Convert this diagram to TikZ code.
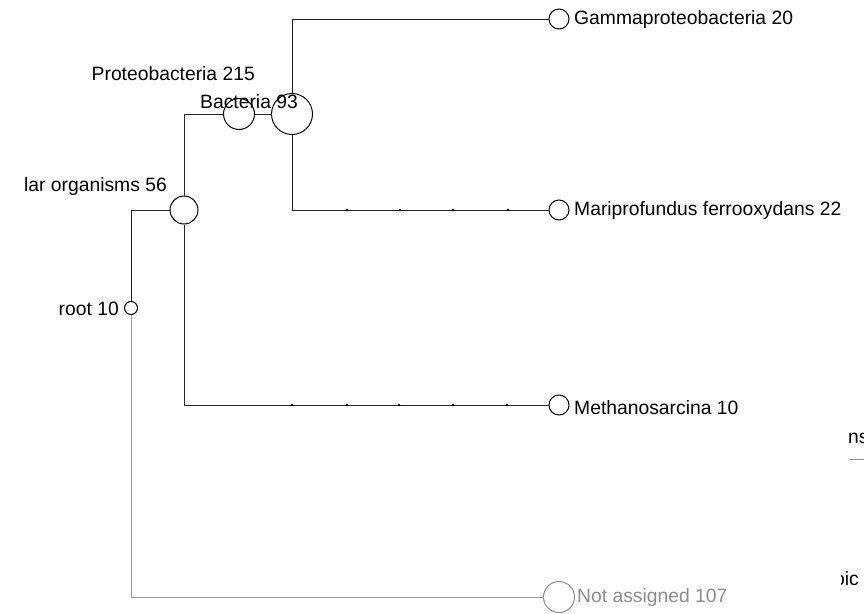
\documentclass[tikz,border=0pt]{standalone}
\usepackage{fontspec}
\setmainfont{Liberation Sans}
\begin{document}
\begin{tikzpicture}[x=1pt,y=-1pt,
  treenode/.style={draw=black, line width=1pt, circle, inner sep=0pt, minimum size=#1},
  lbl/.style={font=\fontsize{19.3}{22}\selectfont, inner sep=0pt, text=black},
  edge/.style={draw=black!85, line width=1pt},
  tick/.style={fill=black, radius=1.3pt}]
  \useasboundingbox (0,0) rectangle (864,613);

  % taxon circles
  \node[treenode=13pt] (root) at (131,308) {};
  \node[treenode=28pt] (cell) at (184,210) {};
  \node[treenode=31pt] (bact) at (239,114) {};
  \node[treenode=41pt] (prot) at (292,114) {};
  \node[treenode=20pt] (gamma) at (559,19) {};
  \node[treenode=20pt] (mari) at (559,210) {};
  \node[treenode=20pt] (meth) at (559,405) {};
  \node[treenode=31pt, draw=black!45] (nass) at (559,597) {};

  % labels
  \node[lbl, anchor=east] (rootl) at (119,309) {root 10};
  \node[lbl, anchor=east] (celll) at (167,187) {lar organisms 56};
  \node[lbl, anchor=east] (protl) at (255,74) {Proteobacteria 215};
  \node[lbl, anchor=west] (bactl) at (200,102) {Bacteria 93};
  \node[lbl, anchor=west] (gammal) at (574,20) {Gammaproteobacteria 20};
  \node[lbl, anchor=west] (maril) at (574,211) {Mariprofundus ferrooxydans 22};
  \node[lbl, anchor=west] (methl) at (574,408) {Methanosarcina 10};
  \node[lbl, anchor=west, text=black!45] (nassl) at (577,598) {Not assigned 107};

  % branches
  \draw[edge] (root.north) |- (cell.west);
  \draw[draw=black!40, line width=1pt] (root.south) |- (nass.west);
  \draw[edge] (cell.north) |- (bact.west);
  \draw[edge] (cell.south) |- (meth.west);
  \draw[edge] (bact.east) -- (prot.west);
  \draw[edge] (prot.north) |- (gamma.west);
  \draw[edge] (prot.south) |- (mari.west);

  % collapsed-rank ticks on the long branches
  \foreach \x in {292,347,399,453,507} \fill[tick] (\x,405) circle;
  \foreach \x in {347,400,453,508} \fill[tick] (\x,210) circle;

  % partly visible items at the right border
  \node[lbl, anchor=west] (edgea) at (848,438) {ns};
  \coordinate (edgeb) at (850,459);
  \coordinate (edgec) at (864,459);
  \draw[draw=black!45, line width=1pt] (edgeb) -- (edgec);
  \begin{scope}
    \clip (841,560) rectangle (864,600);
    \node[lbl, anchor=west] (edged) at (834,579) {oic};
  \end{scope}
\end{tikzpicture}
\end{document}
